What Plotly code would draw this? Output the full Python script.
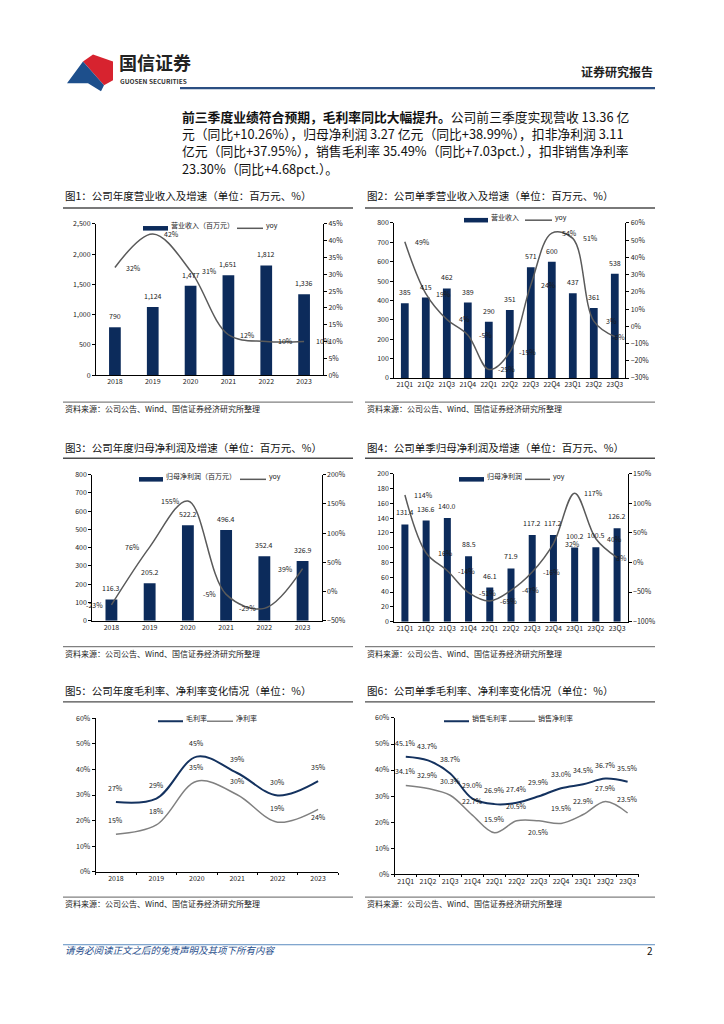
import plotly.graph_objects as go

W, H = 724, 1024
TY = -3.5  # text baseline correction
def fx(px): return px / W
def fy(py): return 1 - py / H

FONT = "Noto Sans CJK SC"

# ---------------- data ----------------
years = ["2018", "2019", "2020", "2021", "2022", "2023"]
quarters = ["21Q1", "21Q2", "21Q3", "21Q4", "22Q1", "22Q2", "22Q3", "22Q4", "23Q1", "23Q2", "23Q3"]

rev_annual = [790, 1124, 1477, 1651, 1812, 1336]
rev_annual_yoy = [32, 42, 31, 12, 10, 10]

rev_q = [385, 415, 462, 389, 290, 351, 571, 600, 437, 361, 538]
rev_q_yoy = [49, 19, 4, -5, -25, -15, 24, 54, 51, 3, -6]

np_annual = [116.3, 205.2, 522.2, 496.4, 352.4, 326.9]
np_annual_yoy = [-23, 76, 155, -5, -29, 39]

np_q = [131.4, 136.6, 140.0, 88.5, 46.1, 71.9, 117.2, 117.2, 100.2, 100.5, 126.2]
np_q_yoy = [114, 16, -14, -51, -65, -47, -16, 32, 117, 40, 8]

gm_annual = [27.3, 28.6, 45.0, 38.6, 29.8, 35.4]
nm_annual = [14.7, 18.3, 35.4, 30.1, 19.4, 24.4]

gm_q = [45.1, 43.7, 38.7, 29.0, 26.9, 27.4, 29.9, 33.0, 34.5, 36.7, 35.5]
nm_q = [34.1, 32.9, 30.3, 22.7, 15.9, 20.5, 20.5, 19.5, 22.9, 27.9, 23.5]

titles = [
    "图1：公司年度营业收入及增速（单位：百万元、%）",
    "图2：公司单季营业收入及增速（单位：百万元、%）",
    "图3：公司年度归母净利润及增速（单位：百万元、%）",
    "图4：公司单季归母净利润及增速（单位：百万元、%）",
    "图5：公司年度毛利率、净利率变化情况（单位：%）",
    "图6：公司单季毛利率、净利率变化情况（单位：%）",
]
source_text = "资料来源：公司公告、Wind、国信证券经济研究所整理"

para_lines = [
    "<b>前三季度业绩符合预期，毛利率同比大幅提升。</b>公司前三季度实现营收 13.36 亿",
    "元（同比+10.26%），归母净利润 3.27 亿元（同比+38.99%），扣非净利润 3.11",
    "亿元（同比+37.95%），销售毛利率 35.49%（同比+7.03pct.），扣非销售净利率",
    "23.30%（同比+4.68pct.）。",
]

# ---------------- styles ----------------
BAR = "#0c2b5b"
YOY = "#5a5a5a"
GM = "#14325f"
NM = "#808080"
TXT = "#1a1a1a"
TICKF = dict(family=FONT, size=7, color="#222")

fig = go.Figure()
layout = dict(
    width=W, height=H, margin=dict(l=0, r=0, t=0, b=0),
    paper_bgcolor="white", plot_bgcolor="rgba(0,0,0,0)",
    showlegend=False, font=dict(family=FONT, color=TXT),
)
annotations = []
shapes = []

def ann(x, y, text, size=7, color=TXT, xanchor="left", yanchor="middle", **kw):
    annotations.append(dict(x=fx(x), y=fy(y + TY), xref="paper", yref="paper", text=text,
                            showarrow=False, xanchor=xanchor, yanchor=yanchor,
                            font=dict(family=FONT, size=size, color=color), **kw))

def hline(x0, x1, y, color, width):
    shapes.append(dict(type="line", xref="paper", yref="paper", x0=fx(x0), x1=fx(x1),
                       y0=fy(y), y1=fy(y), line=dict(color=color, width=width)))

def rect(x0, x1, y0, y1, color):
    shapes.append(dict(type="rect", xref="paper", yref="paper", x0=fx(x0), x1=fx(x1),
                       y0=fy(y1), y1=fy(y0), fillcolor=color, line=dict(width=0)))

def xaxis_def(x0, x1, cats, anchor):
    return dict(domain=[fx(x0), fx(x1)], type="category", categoryorder="array",
                categoryarray=cats, range=[-0.5, len(cats) - 0.5], anchor=anchor,
                showline=True, linecolor="#000", linewidth=1, ticks="", showgrid=False,
                zeroline=False, tickfont=TICKF, tickangle=0, fixedrange=True)

def yleft_def(y0, y1, rng, dtick, anchor, fmt=None, suffix=""):
    d = dict(domain=[fy(y1), fy(y0)], range=rng, dtick=dtick, anchor=anchor,
             showline=True, linecolor="#000", linewidth=1, ticks="outside", ticklen=3,
             tickcolor="#000", showgrid=False, zeroline=False, tickfont=TICKF,
             ticksuffix=suffix, fixedrange=True)
    if fmt:
        d["tickformat"] = fmt
    return d

def yright_def(rng, dtick, anchor, overlay):
    return dict(range=rng, dtick=dtick, anchor=anchor, overlaying=overlay, side="right",
                showline=True, linecolor="#000", linewidth=1, ticks="outside", ticklen=3,
                tickcolor="#000", showgrid=False, zeroline=False, tickfont=TICKF,
                ticksuffix="%", fixedrange=True)

# chart geometry (px): x0, x1, ytop, ybottom
geo = {
    1: (96, 323, 220, 372.7),
    2: (394.3, 625.3, 219, 375.7),
    3: (92.3, 321.7, 473.3, 620.7),
    4: (394.3, 627.7, 472.3, 621.7),
    5: (95.7, 338.3, 719.3, 874.3),
    6: (394.7, 638.7, 719, 876.7),
}

def axname(prefix, ref):
    return prefix if len(ref) == 1 else prefix + ref[1:]

def bar_line_chart(idx, xa, ya, yb, cats, bars, bar_labels, yoy, yrng_l, dl, yrng_r, dr,
                   bw, fmt, lab_shift, bar_shift=11, last_shift=None):
    x0, x1, t, b = geo[idx]
    layout[axname("xaxis", xa)] = xaxis_def(x0, x1, cats, ya)
    layout[axname("yaxis", ya)] = yleft_def(t, b, yrng_l, dl, xa, fmt)
    layout[axname("yaxis", yb)] = yright_def(yrng_r, dr, xa, ya)
    fig.add_trace(go.Bar(x=cats, y=bars, xaxis=xa, yaxis=ya,
                         marker=dict(color=BAR, line=dict(width=0)), width=bw, hoverinfo="skip"))
    fig.add_trace(go.Scatter(x=cats, y=yoy, xaxis=xa, yaxis=yb, mode="lines",
                             line=dict(color=YOY, width=1.5, shape="spline", smoothing=1.0),
                             hoverinfo="skip"))
    for i, (v, lab) in enumerate(zip(bars, bar_labels)):
        annotations.append(dict(x=i, y=v, xref=xa, yref=ya, text=lab, showarrow=False,
                                yshift=bar_shift, font=dict(family=FONT, size=7, color=TXT)))
    n = len(yoy)
    for i, v in enumerate(yoy):
        s = last_shift if (last_shift is not None and i == n - 1) else lab_shift
        annotations.append(dict(x=i, y=v, xref=xa, yref=yb, text=f"{v}%", showarrow=False,
                                xshift=s, font=dict(family=FONT, size=7, color=TXT)))

# Chart 1
bar_line_chart(1, "x", "y", "y2", years, rev_annual, [f"{v:,}" for v in rev_annual],
               rev_annual_yoy, [0, 2500], 500, [0, 45], 5, 0.31, ",", 19)
# Chart 2
bar_line_chart(2, "x2", "y3", "y4", quarters, rev_q, [str(v) for v in rev_q],
               rev_q_yoy, [0, 800], 100, [-30, 60], 10, 0.37, None, 18, last_shift=4)
# Chart 3
bar_line_chart(3, "x3", "y5", "y6", years, np_annual, [f"{v:.1f}" for v in np_annual],
               np_annual_yoy, [0, 800], 100, [-50, 200], 50, 0.31, None, -17)
# Chart 4
bar_line_chart(4, "x4", "y7", "y8", quarters, np_q, [f"{v:.1f}" for v in np_q],
               np_q_yoy, [0, 200], 20, [-100, 150], 50, 0.33, None, 19, 12, last_shift=4)

# Charts 5 & 6 (margins)
def margin_chart(idx, xa, ya, cats, gm, nm, gm_fmt, nm_fmt, nm_shifts):
    x0, x1, t, b = geo[idx]
    xd = xaxis_def(x0, x1, cats, ya)
    xd.update(ticks="outside", ticklen=2, tickson="boundaries", tickcolor="#000")
    layout[axname("xaxis", xa)] = xd
    layout[axname("yaxis", ya)] = yleft_def(t, b, [0, 60], 10, xa, None, "%")
    fig.add_trace(go.Scatter(x=cats, y=gm, xaxis=xa, yaxis=ya, mode="lines",
                             line=dict(color=GM, width=2, shape="spline", smoothing=1.0), hoverinfo="skip"))
    fig.add_trace(go.Scatter(x=cats, y=nm, xaxis=xa, yaxis=ya, mode="lines",
                             line=dict(color=NM, width=1.5, shape="spline", smoothing=1.0), hoverinfo="skip"))
    for i, v in enumerate(gm):
        annotations.append(dict(x=i, y=v, xref=xa, yref=ya, text=gm_fmt(v), showarrow=False,
                                yshift=14, font=dict(family=FONT, size=7, color=TXT)))
    for i, (v, s) in enumerate(zip(nm, nm_shifts)):
        annotations.append(dict(x=i, y=v, xref=xa, yref=ya, text=nm_fmt(v), showarrow=False,
                                yshift=s, font=dict(family=FONT, size=7, color=TXT)))

margin_chart(5, "x5", "y9", years, gm_annual, nm_annual,
             lambda v: f"{round(v):.0f}%", lambda v: f"{round(v):.0f}%",
             [14, 14, 14, 14, 14, -8])
margin_chart(6, "x6", "y10", quarters, gm_q, nm_q,
             lambda v: f"{v:.1f}%", lambda v: f"{v:.1f}%",
             [14, 14, 14, 14, 14, 15, -11, 15, 14, 14, 14])

# ---------------- legends (manual) ----------------
def leg_bar(x0, x1, y, label, lx):
    rect(x0, x1, y - 2.3, y + 2.3, BAR)
    ann(lx, y, label, size=7)

def leg_line(x0, x1, y, color, width, label, lx):
    hline(x0, x1, y, color, width)
    ann(lx, y, label, size=7)

leg_bar(143, 168, 224.5, "营业收入（百万元）", 169)
leg_line(237, 263, 224.5, YOY, 1.5, "yoy", 264)
leg_bar(464, 488, 216.3, "营业收入", 489)
leg_line(525, 552, 216.3, YOY, 1.5, "yoy", 553)
leg_bar(139, 163, 478, "归母净利润（百万元）", 164)
leg_line(240, 266, 478, YOY, 1.5, "yoy", 267)
leg_bar(459, 484, 478, "归母净利润", 485)
leg_line(525, 550, 478, YOY, 1.5, "yoy", 551)
leg_line(158, 183, 722.3, GM, 2, "毛利率", 184)
leg_line(207, 233, 722.3, NM, 1.5, "净利率", 234)
leg_line(444, 469, 722.3, GM, 2, "销售毛利率", 470)
leg_line(509, 535, 722.3, NM, 1.5, "销售净利率", 536)

# ---------------- titles, rules, sources ----------------
title_y = [195, 195, 449, 449, 694.3, 694.3]
under_y = [204, 204, 456.7, 456.7, 702.7, 702.7]
bottom_y = [400, 400, 647, 647, 900, 900]
for i in range(6):
    left = (i % 2 == 0)
    xs, xe = (63, 353) if left else (365, 655)
    ann(xs, title_y[i], titles[i], size=10.5, color="#111")
    hline(xs, xe, under_y[i], "#4d4d4d", 1.3)
    hline(xs, xe, bottom_y[i], "#808080", 1.3)
    ann(xs, bottom_y[i] + 10, source_text, size=8, color="#222")

# ---------------- header ----------------
red_pts = [(83, 56), (93, 49), (113, 56), (113, 75), (104, 80)]
blue_pts = [(67, 78), (83, 56), (104, 80), (101, 86), (88, 78)]
def path_from(pts):
    s = f"M {fx(pts[0][0])},{fy(pts[0][1])}"
    for p in pts[1:]:
        s += f" L {fx(p[0])},{fy(p[1])}"
    return s + " Z"
shapes.append(dict(type="path", xref="paper", yref="paper", path=path_from(red_pts),
                   fillcolor="#d7232f", line=dict(width=0)))
shapes.append(dict(type="path", xref="paper", yref="paper", path=path_from(blue_pts),
                   fillcolor="#1d4f8c", line=dict(width=0)))
ann(117, 60.5, "<b>国信证券</b>", size=18, color="#222")
ann(118, 79, "<b>GUOSEN SECURITIES</b>", size=6.5, color="#333")
ann(655, 70, "<b>证券研究报告</b>", size=12, color="#222", xanchor="right")
hline(180, 655, 83, "#2b4f82", 2.2)

for i, line in enumerate(para_lines):
    ann(180, 115 + i * 17.4, line, size=12.8, color="#111")

# ---------------- footer ----------------
hline(63, 655, 948, "#5b8bbf", 1)
ann(63, 957, "<i>请务必阅读正文之后的免责声明及其项下所有内容</i>", size=9.5, color="#1f4e8c")
ann(655, 957, "2", size=10, color="#111", xanchor="right")

layout["annotations"] = annotations
layout["shapes"] = shapes
fig.update_layout(**layout)

fig.write_html("out.html", config={"displayModeBar": False, "staticPlot": True},
               post_script="document.body.style.margin='0';document.body.style.overflow='hidden';")
